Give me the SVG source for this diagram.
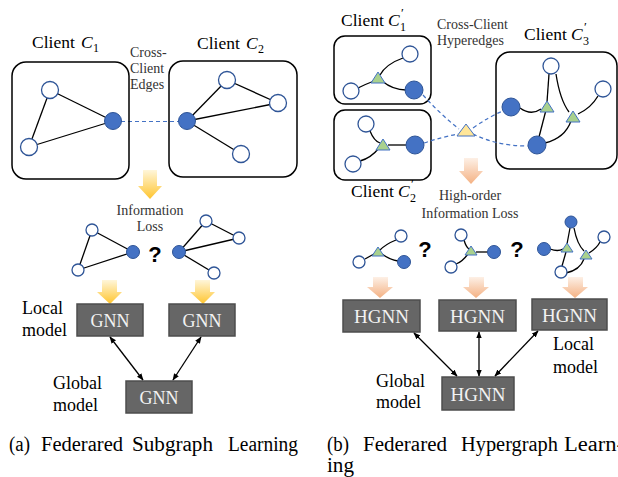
<svg xmlns="http://www.w3.org/2000/svg" width="618" height="477" viewBox="0 0 618 477">
<defs>
<style>
.box{fill:none;stroke:#000;stroke-width:1.5}
.on{fill:#fff;stroke:#2F5597;stroke-width:1.3}
.fn{fill:#4472C4;stroke:#2F5597;stroke-width:1}
.tri{fill:#A9D18E;stroke:#4472C4;stroke-width:1}
.ytri{fill:#FFE699;stroke:#4472C4;stroke-width:1}
.e{fill:none;stroke:#000;stroke-width:1.3}
.d{fill:none;stroke:#4472C4;stroke-width:1.2;stroke-dasharray:4 3}
.t{font-family:"Liberation Serif","Times New Roman",serif;fill:#000}
.s{font-family:"Liberation Serif","Times New Roman",serif;fill:#333;font-size:14px}
.m{font-family:"Liberation Serif","Times New Roman",serif;font-style:italic;fill:#000}
.q{font-family:"Liberation Sans",Arial,sans-serif;font-weight:bold;font-size:22px;fill:#000}
.mod{fill:#666;stroke:#4d4d4d;stroke-width:1.5}
.mt{font-family:"Liberation Serif","Times New Roman",serif;fill:#f2f2f2;text-anchor:middle}
.ar{fill:none;stroke:#000;stroke-width:1.3;marker-start:url(#ah);marker-end:url(#ah)}
.cap{font-family:"Liberation Serif","Times New Roman",serif;fill:#000;font-size:20.5px}
</style>
<linearGradient id="gy" x1="0" y1="0" x2="0" y2="1">
<stop offset="0" stop-color="#FFF6DA"/>
<stop offset="1" stop-color="#FFC52E"/>
</linearGradient>
<linearGradient id="go" x1="0" y1="0" x2="0" y2="1">
<stop offset="0" stop-color="#FDF0E6"/>
<stop offset="1" stop-color="#F4B183"/>
</linearGradient>
<marker id="ah" viewBox="0 0 10 10" refX="9" refY="5" markerWidth="7" markerHeight="7" markerUnits="userSpaceOnUse" orient="auto-start-reverse">
<path d="M0 1 L10 5 L0 9 Z" fill="#000"/>
</marker>
</defs>

<!-- ========== Panel (a) ========== -->
<g id="connectors-a">
<line class="d" x1="121" y1="121.5" x2="179" y2="121.5"/>
</g>

<g id="client-c1">
<rect class="box" x="12" y="62" width="117" height="117" rx="14"/>
<line class="e" x1="50" y1="90" x2="113" y2="121"/>
<line class="e" x1="50" y1="90" x2="29" y2="147"/>
<line class="e" x1="29" y1="147" x2="113" y2="121"/>
<circle class="on" cx="50" cy="90" r="8.5"/>
<circle class="on" cx="29" cy="147" r="8.5"/>
<circle class="fn" cx="113" cy="121" r="8.5"/>
<text class="t" x="32" y="48" font-size="17.5">Client</text>
<text class="m" x="81" y="48" font-size="17.5">C</text>
<text class="t" x="93" y="52" font-size="12">1</text>
</g>

<g id="client-c2">
<rect class="box" x="169" y="61" width="128" height="116" rx="14"/>
<line class="e" x1="187" y1="121" x2="227" y2="80"/>
<line class="e" x1="187" y1="121" x2="278" y2="103"/>
<line class="e" x1="187" y1="121" x2="241" y2="154"/>
<line class="e" x1="227" y1="80" x2="278" y2="103"/>
<circle class="on" cx="227" cy="80" r="8.5"/>
<circle class="on" cx="278" cy="103" r="8.5"/>
<circle class="on" cx="241" cy="154" r="8.5"/>
<circle class="fn" cx="187" cy="121" r="8.5"/>
<text class="t" x="197" y="49" font-size="17.5">Client</text>
<text class="m" x="246" y="49" font-size="17.5">C</text>
<text class="t" x="258" y="53" font-size="12">2</text>
</g>

<g id="cross-client-edges-label">
<text class="s" x="130" y="57">Cross-</text>
<text class="s" x="130" y="73">Client</text>
<text class="s" x="130" y="89">Edges</text>
</g>

<g id="arrow-a-main">
<path d="M143 170 H157 V186 H162 L150 199 L138 186 H143 Z" fill="url(#gy)"/>
</g>

<g id="info-loss-a">
<text class="s" x="150" y="215" text-anchor="middle">Information</text>
<text class="s" x="150" y="231" text-anchor="middle">Loss</text>
</g>

<g id="subgraph-a1">
<line class="e" x1="92" y1="230" x2="133" y2="252"/>
<line class="e" x1="92" y1="230" x2="78" y2="270"/>
<line class="e" x1="78" y1="270" x2="133" y2="252"/>
<circle class="on" cx="92" cy="230" r="6"/>
<circle class="on" cx="78" cy="270" r="6"/>
<circle class="fn" cx="133" cy="252" r="6.5"/>
</g>
<text class="q" x="155" y="262" text-anchor="middle">?</text>
<g id="subgraph-a2">
<line class="e" x1="179" y1="252" x2="206" y2="221"/>
<line class="e" x1="179" y1="252" x2="239" y2="238"/>
<line class="e" x1="179" y1="252" x2="214" y2="273"/>
<line class="e" x1="206" y1="221" x2="239" y2="238"/>
<circle class="on" cx="206" cy="221" r="6"/>
<circle class="on" cx="239" cy="238" r="6"/>
<circle class="on" cx="214" cy="273" r="6"/>
<circle class="fn" cx="179" cy="252" r="6.5"/>
</g>

<g id="arrows-a-small">
<path d="M102 280 H117 V292 H122 L110 304 L97 292 H102 Z" fill="url(#gy)"/>
<path d="M195 280 H210 V292 H215 L203 304 L190 292 H195 Z" fill="url(#gy)"/>
</g>

<g id="gnn-local-1">
<rect class="mod" x="77" y="304" width="66" height="32"/>
<text class="mt" x="110" y="327" font-size="18">GNN</text>
</g>
<g id="gnn-local-2">
<rect class="mod" x="169" y="304" width="66" height="32"/>
<text class="mt" x="202" y="327" font-size="18">GNN</text>
</g>
<g id="gnn-global">
<rect class="mod" x="126" y="381" width="66" height="32"/>
<text class="mt" x="159" y="404" font-size="18">GNN</text>
</g>
<g id="labels-a">
<text class="t" x="22" y="314" font-size="18">Local</text>
<text class="t" x="22" y="336" font-size="18">model</text>
<text class="t" x="53" y="389" font-size="18">Global</text>
<text class="t" x="53" y="411" font-size="18">model</text>
</g>

<g id="caption-a">
<text class="cap" x="9" y="451" textLength="21" lengthAdjust="spacingAndGlyphs">(a)</text>
<text class="cap" x="41" y="451" textLength="82" lengthAdjust="spacingAndGlyphs">Federared</text>
<text class="cap" x="132" y="451" textLength="81" lengthAdjust="spacingAndGlyphs">Subgraph</text>
<text class="cap" x="228" y="451" textLength="70" lengthAdjust="spacingAndGlyphs">Learning</text>
</g>

<!-- ========== Panel (b) ========== -->
<g id="client-c1p">
<rect class="box" x="334" y="36" width="97" height="68" rx="11"/>
<path class="e" d="M403 58 Q386 64 380 75"/>
<path class="e" d="M382 81 Q393 90 406 90"/>
<path class="e" d="M374 81 Q366 84 358 88"/>
<polygon class="tri" points="378,72 371,83 385,83"/>
<circle class="on" cx="410" cy="54" r="8"/>
<circle class="on" cx="351" cy="91" r="8"/>
<circle class="fn" cx="414" cy="90" r="9"/>
<text class="t" x="341" y="26" font-size="17.5">Client</text>
<text class="m" x="388" y="26" font-size="17.5">C</text>
<text class="t" x="401" y="17" font-size="13">′</text>
<text class="t" x="400" y="31" font-size="12">1</text>
</g>

<g id="client-c2p">
<rect class="box" x="334" y="110" width="97" height="70" rx="11"/>
<path class="e" d="M370 131 Q374 141 380 143"/>
<line class="e" x1="388" y1="145" x2="406" y2="145"/>
<path class="e" d="M379 148 Q371 158 360 161"/>
<polygon class="tri" points="383,139 376,150 390,150"/>
<circle class="on" cx="366" cy="124" r="8"/>
<circle class="on" cx="353" cy="164" r="8"/>
<circle class="fn" cx="415" cy="145" r="9"/>
<text class="t" x="351" y="197" font-size="17.5">Client</text>
<text class="m" x="398" y="197" font-size="17.5">C</text>
<text class="t" x="411" y="188" font-size="13">′</text>
<text class="t" x="410" y="202" font-size="12">2</text>
</g>

<g id="client-c3p">
<rect class="box" x="496" y="52" width="121" height="117" rx="14"/>
<line class="e" x1="549" y1="74" x2="547" y2="102"/>
<path class="e" d="M556 74 Q560 100 569 112"/>
<path class="e" d="M520 108 Q531 116 541 109"/>
<line class="e" x1="546" y1="110" x2="539" y2="137"/>
<path class="e" d="M571 121 Q565 138 545 143"/>
<path class="e" d="M578 114 Q591 108 598 96"/>
<polygon class="tri" points="547,101 540,112 554,112"/>
<polygon class="tri" points="573,111 566,122 580,122"/>
<circle class="on" cx="551" cy="66" r="8"/>
<circle class="on" cx="603" cy="89" r="8"/>
<circle class="fn" cx="511" cy="107" r="9"/>
<circle class="fn" cx="537" cy="145" r="9"/>
<text class="t" x="524" y="40" font-size="17.5">Client</text>
<text class="m" x="571" y="40" font-size="17.5">C</text>
<text class="t" x="584" y="31" font-size="13">′</text>
<text class="t" x="583" y="45" font-size="12">3</text>
</g>

<g id="connectors-hyper">
<path class="d" d="M423 95 Q440 114 459 129"/>
<path class="d" d="M424 143 Q442 137 458 134"/>
<path class="d" d="M473 128 Q490 116 503 111"/>
<path class="d" d="M473 134 Q497 146 528 146"/>
</g>
<g id="hyperedge-cross">
<polygon class="ytri" points="466,124 457,136 475,136"/>
</g>

<g id="cross-client-hyperedges-label">
<text class="s" x="437" y="29">Cross-Client</text>
<text class="s" x="437" y="45">Hyperedges</text>
</g>

<g id="arrow-b-main">
<path d="M464 158 H478 V171 H483 L471 184 L459 171 H464 Z" fill="url(#go)"/>
</g>

<g id="info-loss-b">
<text class="s" x="470" y="200" text-anchor="middle">High-order</text>
<text class="s" x="470" y="218" text-anchor="middle">Information Loss</text>
</g>

<g id="subhyper-b1">
<path class="e" d="M396 240 Q386 244 380 250"/>
<line class="e" x1="374" y1="254" x2="365" y2="259"/>
<path class="e" d="M382 254 Q390 260 398 261"/>
<polygon class="tri" points="378,247 372,256 384,256"/>
<circle class="on" cx="401" cy="236" r="6"/>
<circle class="on" cx="359" cy="262" r="6"/>
<circle class="fn" cx="404" cy="262" r="6.5"/>
</g>
<text class="q" x="425" y="257" text-anchor="middle">?</text>
<g id="subhyper-b2">
<path class="e" d="M464 240 Q466 247 469 249"/>
<path class="e" d="M468 254 Q462 262 456 264"/>
<line class="e" x1="476" y1="252" x2="488" y2="252"/>
<polygon class="tri" points="471,246 465,255 477,255"/>
<circle class="on" cx="461" cy="235" r="6"/>
<circle class="on" cx="451" cy="267" r="6"/>
<circle class="fn" cx="494" cy="252" r="6.5"/>
</g>
<text class="q" x="517" y="257" text-anchor="middle">?</text>
<g id="subhyper-b3">
<line class="e" x1="570" y1="228" x2="567" y2="244"/>
<path class="e" d="M574 228 Q577 244 584 251"/>
<path class="e" d="M550 249 Q558 252 563 249"/>
<line class="e" x1="566" y1="252" x2="562" y2="266"/>
<path class="e" d="M584 259 Q580 270 566 273"/>
<path class="e" d="M589 253 Q597 248 600 242"/>
<polygon class="tri" points="567,243 561,252 573,252"/>
<polygon class="tri" points="586,250 580,259 592,259"/>
<circle class="fn" cx="571" cy="222" r="6"/>
<circle class="on" cx="604" cy="237" r="6"/>
<circle class="fn" cx="544" cy="249" r="6.5"/>
<circle class="on" cx="561" cy="272" r="6"/>
</g>

<g id="arrows-b-small">
<path d="M373 277 H388 V287 H393 L380 298 L367 287 H373 Z" fill="url(#go)"/>
<path d="M469 277 H484 V287 H489 L476 298 L463 287 H469 Z" fill="url(#go)"/>
<path d="M568 277 H583 V287 H588 L575 298 L562 287 H568 Z" fill="url(#go)"/>
</g>

<g id="hgnn-local-1">
<rect class="mod" x="343" y="300" width="77" height="32"/>
<text class="mt" x="381.5" y="323" font-size="19">HGNN</text>
</g>
<g id="hgnn-local-2">
<rect class="mod" x="439" y="300" width="77" height="31"/>
<text class="mt" x="477.5" y="323" font-size="19">HGNN</text>
</g>
<g id="hgnn-local-3">
<rect class="mod" x="532" y="299" width="75" height="31"/>
<text class="mt" x="569.5" y="322" font-size="19">HGNN</text>
</g>
<g id="hgnn-global">
<rect class="mod" x="442" y="377" width="72" height="33"/>
<text class="mt" x="478" y="401" font-size="19">HGNN</text>
</g>
<g id="labels-b">
<text class="t" x="553" y="350" font-size="18">Local</text>
<text class="t" x="553" y="373" font-size="18">model</text>
<text class="t" x="376" y="387" font-size="18">Global</text>
<text class="t" x="376" y="408" font-size="18">model</text>
</g>

<g id="caption-b">
<text class="cap" x="327" y="451" textLength="22" lengthAdjust="spacingAndGlyphs">(b)</text>
<text class="cap" x="363" y="451" textLength="84" lengthAdjust="spacingAndGlyphs">Federared</text>
<text class="cap" x="461" y="451" textLength="97" lengthAdjust="spacingAndGlyphs">Hypergraph</text>
<text class="cap" x="564" y="451" textLength="60" lengthAdjust="spacingAndGlyphs">Learn-</text>
<text class="cap" x="327" y="472" textLength="27" lengthAdjust="spacingAndGlyphs">ing</text>
</g>

<!-- model connectors -->
<g id="connectors-models">
<line class="ar" x1="110" y1="337" x2="143" y2="380"/>
<line class="ar" x1="201" y1="337" x2="173" y2="380"/>
<line class="ar" x1="414" y1="333" x2="457" y2="376"/>
<line class="ar" x1="479" y1="332" x2="479" y2="376"/>
<line class="ar" x1="538" y1="331" x2="495" y2="376"/>
</g>
</svg>
